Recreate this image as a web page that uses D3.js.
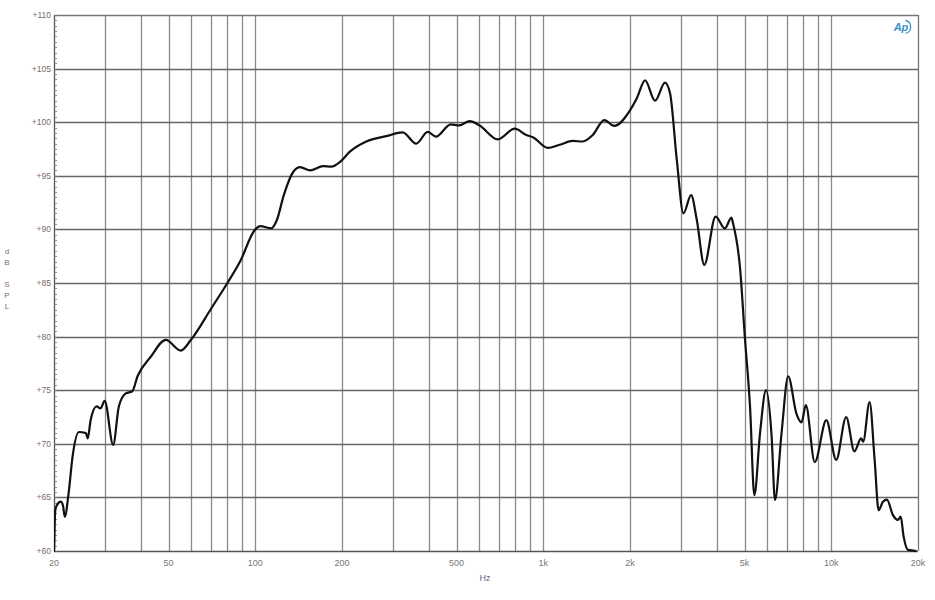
<!DOCTYPE html>
<html><head><meta charset="utf-8">
<script src="https://cdn.jsdelivr.net/npm/d3@7"></script>
<style>body{margin:0;background:#fff}svg{display:block}</style>
</head><body>
<svg id="c" width="935" height="600"></svg>
<script>
const freqs = [20,20.2,20.5,21.1,21.5,21.8,22.5,23.2,24.4,25.8,26.2,26.8,28.1,29.0,30.0,32.1,33.6,35.5,37.4,39.0,43.3,48.9,55.1,59.8,70.2,80.0,88.9,99.3,104.2,113.5,118.9,125.6,135.7,143,155,172,184,197,213,243,285,325,362,397,424,477,510,555,601,695,796,873,920,1037,1140,1266,1371,1484,1628,1763,2000,2110,2256,2444,2646,2755,2907,3066,3260,3411,3622,3965,4270,4500,4555,4817,5018,5222,5405,5656,5933,6205,6374,6718,7083,7570,7880,8158,8760,9610,10400,11260,12030,12690,12900,13580,14140,14600,15110,15600,16370,17040,17410,17840,18460,19770];
const spl = [59.5,63.8,64.3,64.6,64.2,63.2,65.5,68.8,71.1,71.0,70.5,72.2,73.5,73.3,74.0,69.9,73.5,74.7,74.9,76.3,78.1,79.7,78.7,79.7,82.6,85.0,87.1,89.9,90.3,90.1,90.9,93.2,95.4,95.8,95.5,95.9,95.85,96.3,97.25,98.2,98.7,99.05,98.0,99.1,98.65,99.8,99.7,100.1,99.7,98.4,99.4,98.8,98.6,97.6,97.9,98.25,98.2,98.8,100.2,99.65,101.1,102.2,103.9,102.0,103.7,102.7,96.5,91.5,93.2,90.9,86.7,91.2,90.1,91.1,90.6,86.5,79.7,73.45,65.2,71.0,75.0,70.7,64.75,71.0,76.3,72.8,72.0,73.6,68.3,72.2,68.5,72.5,69.3,70.5,70.2,73.9,68.5,63.8,64.6,64.8,63.35,62.9,63.2,61.3,60.1,60.0];
const xTickValues = [20,50,100,200,500,1000,2000,5000,10000,20000];
const xTickLabels = ["20","50","100","200","500","1k","2k","5k","10k","20k"];
const yTickValues = [60,65,70,75,80,85,90,95,100,105,110];
const yTickLabels = ["+60","+65","+70","+75","+80","+85","+90","+95","+100","+105","+110"];
const yTitle = ["d","B","S","P","L"];
const xTitle = "Hz";

const svg = d3.select("#c");
const L = 54, R = 918, T = 15, B = 551;
const x = d3.scaleLog().domain([20,20000]).range([L,R]);
const y = d3.scaleLinear().domain([60,110]).range([B,T]);

// vertical grid
const vgrid = [];
for (let d = 10; d <= 10000; d *= 10) for (let m = 1; m <= 9; m++) { const v = d*m; if (v > 20 && v < 20000) vgrid.push(v); }
svg.append("g").selectAll("line").data(vgrid).join("line")
  .attr("x1", d => Math.round(x(d))+0.5).attr("x2", d => Math.round(x(d))+0.5)
  .attr("y1", T).attr("y2", B).attr("stroke", "#8a8a8a").attr("stroke-width", 1.3);
// horizontal grid
svg.append("g").selectAll("line").data(yTickValues.filter(v => v > 60 && v < 110)).join("line")
  .attr("x1", L).attr("x2", R)
  .attr("y1", d => Math.round(y(d))+0.5).attr("y2", d => Math.round(y(d))+0.5)
  .attr("stroke", "#666").attr("stroke-width", 1.3);
// border
svg.append("line").attr("x1",L).attr("x2",R).attr("y1",T+0.5).attr("y2",T+0.5).attr("stroke","#777").attr("stroke-width",1.3);
svg.append("line").attr("x1",R+0.5).attr("x2",R+0.5).attr("y1",T).attr("y2",B).attr("stroke","#777").attr("stroke-width",1.3);
svg.append("line").attr("x1",L).attr("x2",R).attr("y1",B+0.5).attr("y2",B+0.5).attr("stroke","#555").attr("stroke-width",1.3);
svg.append("line").attr("x1",L+0.5).attr("x2",L+0.5).attr("y1",T).attr("y2",B).attr("stroke","#555").attr("stroke-width",1.3);

// minor y ticks
const minor = d3.range(60, 110.01, 0.5);
svg.append("g").selectAll("line").data(minor).join("line")
  .attr("x1", L).attr("x2", L+3)
  .attr("y1", d => Math.round(y(d))+0.5).attr("y2", d => Math.round(y(d))+0.5)
  .attr("stroke", "#777").attr("stroke-width", 0.8);

// y labels
svg.append("g").selectAll("text").data(yTickValues).join("text")
  .attr("x", L-3).attr("y", d => y(d)+3)
  .attr("text-anchor","end").attr("font-family","Liberation Sans, Arial, sans-serif")
  .attr("font-size", 8.5).attr("fill","#7a6a6a")
  .text((d,i) => yTickLabels[i]);
// x labels
svg.append("g").selectAll("text").data(xTickValues).join("text")
  .attr("x", d => x(d)).attr("y", 566)
  .attr("text-anchor","middle").attr("font-family","Liberation Sans, Arial, sans-serif")
  .attr("font-size", 9).attr("fill","#777")
  .text((d,i) => xTickLabels[i]);
svg.append("text").attr("x", 485).attr("y", 581).attr("text-anchor","middle")
  .attr("font-family","Liberation Sans, Arial, sans-serif").attr("font-size", 9).attr("fill","#6a6a8a").text(xTitle);
// y title stacked
const yTitleY = [254, 265, 287, 298, 309];
svg.append("g").selectAll("text").data(yTitle).join("text")
  .attr("x", 7).attr("y", (d,i) => yTitleY[i]).attr("text-anchor","middle")
  .attr("font-family","Liberation Sans, Arial, sans-serif").attr("font-size", 8).attr("fill","#8a6a6a")
  .text(d => d);

// AP logo
const logo = svg.append("g").attr("transform","translate(904,27)");
logo.append("text").attr("x",-3).attr("y",4).attr("text-anchor","middle")
  .attr("font-family","Liberation Sans, Arial, sans-serif").attr("font-style","italic").attr("font-weight","bold")
  .attr("font-size",11).attr("fill","#3b8fc4").text("Ap");
logo.append("path").attr("d", d3.arc()({innerRadius:6, outerRadius:7.3, startAngle:0.2, endAngle:2.9}))
  .attr("fill","#3b8fc4");

// curve
svg.append("clipPath").attr("id","clip").append("rect").attr("x",L).attr("y",T).attr("width",R-L).attr("height",B-T+1);
const pts = freqs.map((f,i) => [f, spl[i]]);
const line = d3.line().x(d => x(d[0])).y(d => y(d[1])).curve(d3.curveMonotoneX);
svg.append("path").attr("clip-path","url(#clip)").attr("d", line(pts))
  .attr("fill","none").attr("stroke","#111").attr("stroke-width",2.2).attr("stroke-linejoin","round");
</script>
</body></html>
